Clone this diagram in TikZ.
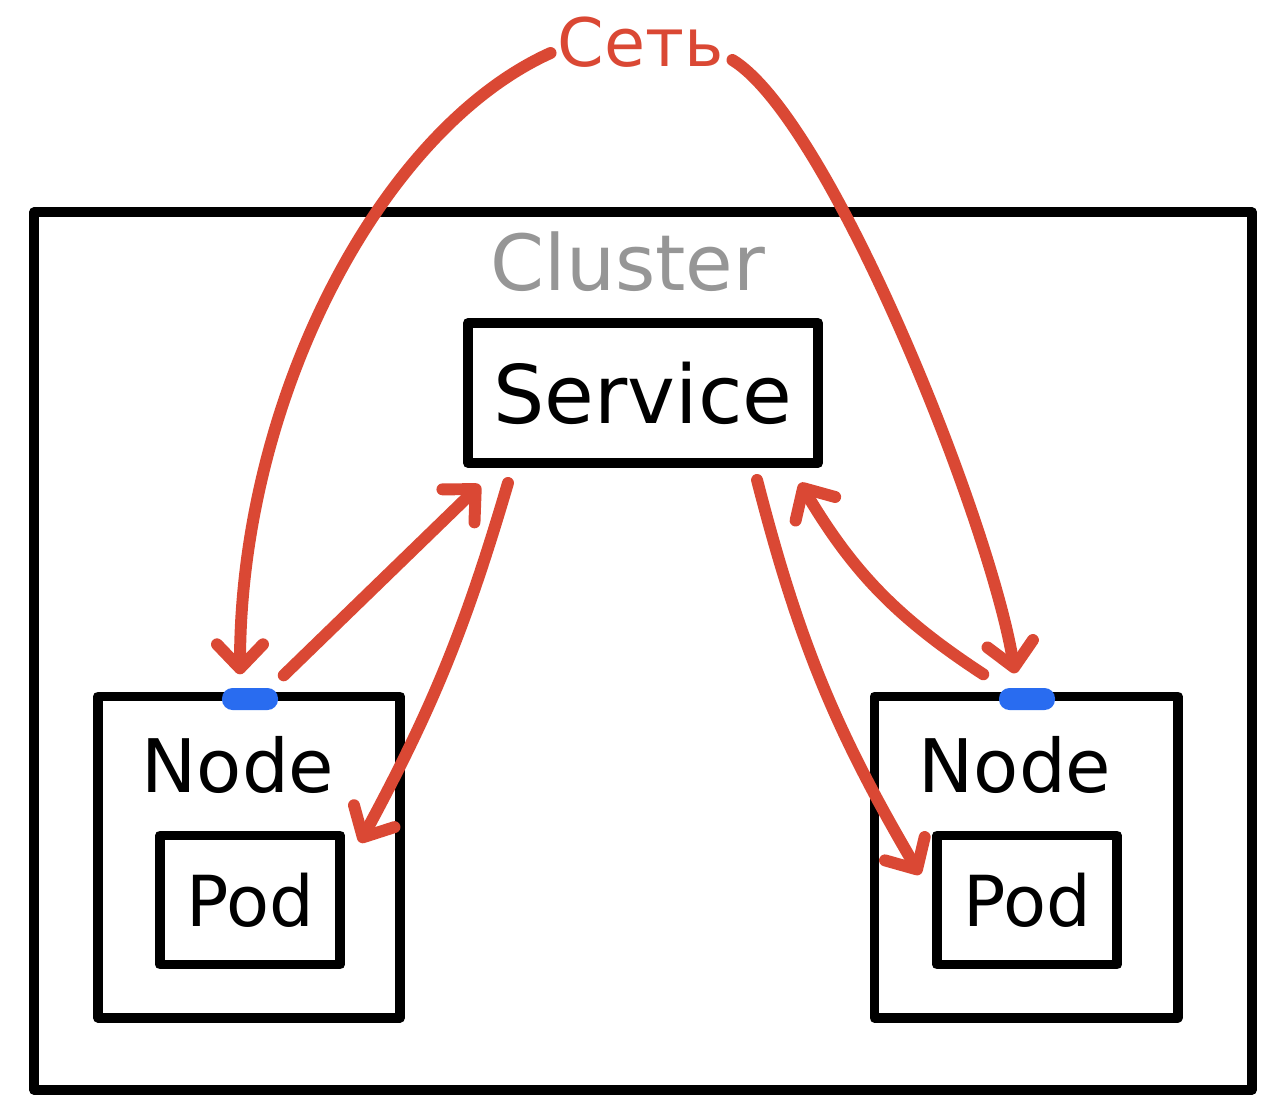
\documentclass[tikz,border=0pt]{standalone}
\usepackage{fontspec}
\setmainfont{DejaVu Sans}
\usetikzlibrary{calc, positioning, arrows.meta}
\definecolor{netred}{RGB}{218,72,52}
\definecolor{portblue}{RGB}{41,108,240}
\definecolor{clgray}{RGB}{150,150,150}
\tikzstyle{box}=[draw, line width=2.8pt, line join=round, inner sep=0pt]
\tikzstyle{port}=[fill=portblue, rounded corners=3pt, inner sep=0pt, minimum width=0.56cm, minimum height=0.22cm]
\tikzstyle{wire}=[netred, line width=3.4pt, line cap=round, line join=round]
\tikzset{>={Straight Barb[length=2.4mm, width=4.6mm, round]}}

\begin{document}
\begin{tikzpicture}[x=0.01cm, y=-0.01cm]
\useasboundingbox (0,0) rectangle (1280,1111);
% the cluster and the service
\node[box, minimum width=12.17cm, minimum height=8.77cm] (cluster) at (643,651) {};
\node[text=clgray, font=\fontsize{22}{26}\selectfont] (clusterlbl) at (628,262) {Cluster};
\node[box, minimum width=3.5cm, minimum height=1.4cm, font=\fontsize{23}{28}\selectfont] (svc) at (643,393) {Service};
% the two nodes with their pods
\node[box, minimum width=3.02cm, minimum height=3.21cm] (nodeL) at (249,857) {};
\node[font=\fontsize{21}{25}\selectfont] (nodeLlbl) at (238,765) {Node};
\node[box, minimum width=1.8cm, minimum height=1.29cm, font=\fontsize{20}{24}\selectfont] (podL) at (250,900) {Pod};
\node[box, minimum width=3.03cm, minimum height=3.21cm] (nodeR) at (1026,857) {};
\node[font=\fontsize{21}{25}\selectfont] (nodeRlbl) at (1015,765) {Node};
\node[box, minimum width=1.8cm, minimum height=1.29cm, font=\fontsize{20}{24}\selectfont] (podR) at (1027,900) {Pod};
% the ports
\node[port] (portL) at (250,699) {};
\node[port] (portR) at (1027,699) {};
% the network
\node[text=netred, font=\fontsize{19}{23}\selectfont] (net) at (641,42) {Сеть};
% the links
\draw[wire, ->] ($(net.west)+(5,11)$) .. controls (380,130) and (240,400) .. ($(portL.north)+(-10,-13)$);
\draw[wire, ->] ($(net.east)+(-4,18)$) .. controls (830,120) and (990,520) .. ($(portR.north)+(-12,-14)$);
\draw[wire, ->] ($(portL.north east)+(5,-12)$) -- ($(svc.south west)+(17,17)$);
\draw[wire, ->] ($(svc.south west)+(45,15)$) to[bend left=6] ($(podL.north east)+(15,12)$);
\draw[wire, ->] ($(svc.south east)+(-66,12)$) to[bend right=8] ($(podR.north west)+(-12,44)$);
\draw[wire, ->] ($(portR.north west)+(-15,-13)$) to[bend left=13] ($(svc.south east)+(-23,15)$);
\end{tikzpicture}
\end{document}
